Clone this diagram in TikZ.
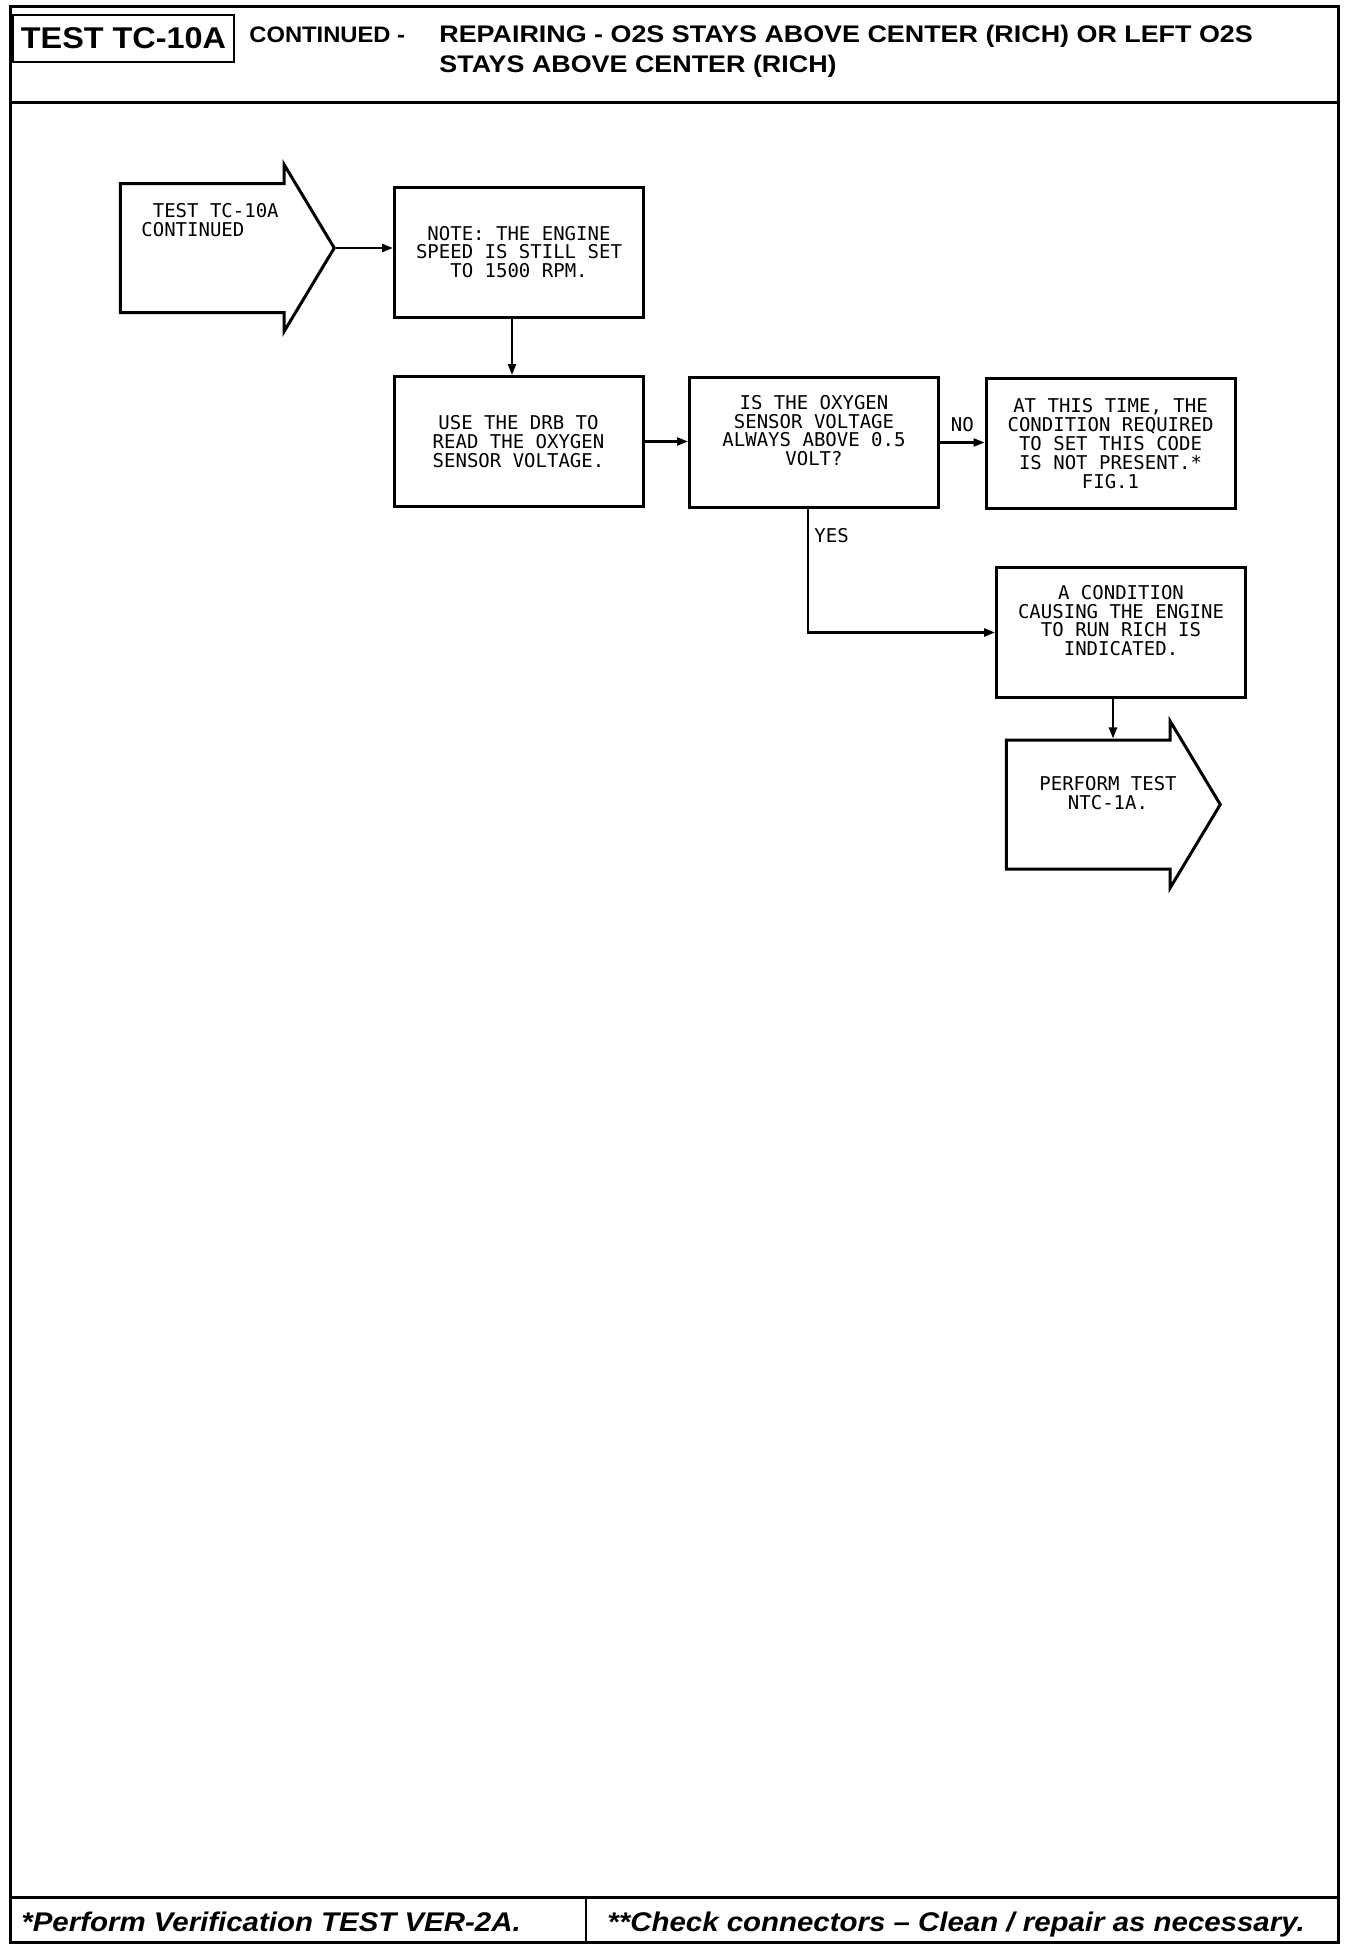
\documentclass[tikz,border=0pt]{standalone}
\usepackage{fontspec}
\setmainfont{Liberation Sans}
\setmonofont{DejaVu Sans Mono}
\newfontfamily\headfont{Liberation Sans}[FakeStretch=1.12]
\newfontfamily\testfont{Liberation Sans}[FakeStretch=1.08]
\newfontfamily\contfont{Liberation Sans}[FakeStretch=1.06]
\newfontfamily\footfont{Liberation Sans}[FakeStretch=1.09]
\usetikzlibrary{positioning,calc,shapes.arrows,arrows.meta}
\definecolor{tcInk}{HTML}{000000}
\newcommand{\boxfont}{\ttfamily\fontsize{9.5}{9.4}\selectfont}

\tikzset{
  stepbox/.style={draw=tcInk, line width=1.5pt, minimum width=124.5pt,
    minimum height=65pt, inner sep=0pt, align=center, font=\boxfont},
  goarrow/.style={draw=tcInk, line width=1.5pt, single arrow,
    single arrow head extend=9.5pt, single arrow head indent=0pt,
    single arrow tip angle=118, minimum height=107pt,
    text height=63pt, text depth=0pt, inner sep=0pt, anchor=tip},
  flow/.style={draw=tcInk, line width=1.2pt,
    -{Triangle[length=5.5pt,width=4pt]}},
  tag/.style={font=\boxfont, inner sep=0pt, text=tcInk}
}

\begin{document}
\begin{tikzpicture}[x=0.5pt, y=-0.5pt]

\def\frameL{10}
\def\frameR{1338}
\def\frameT{6}
\def\frameB{1942}
\def\headY{102}
\def\footY{1897}

\useasboundingbox (0,0) rectangle (1360,1954);

% --- PAGE FRAME ---
\draw[tcInk, line width=1.5pt] (\frameL,\frameT) rectangle (\frameR,\frameB);
\draw[tcInk, line width=1.5pt] (\frameL,\headY) -- (\frameR,\headY);
\draw[tcInk, line width=1.5pt] (\frameL,\footY) -- (\frameR,\footY);
\draw[tcInk, line width=1.2pt] (586,\footY) -- (586,\frameB);

% --- HEADER ---
\node[draw=tcInk, line width=1.2pt, minimum width=110.5pt, minimum height=23.5pt,
      inner sep=0pt, font=\testfont\bfseries\fontsize{15}{15}\selectfont]
  (hdrTest) at (123.5,38.5) {TEST TC-10A};
\node[anchor=base west, inner sep=0pt, font=\contfont\bfseries\fontsize{11.2}{15}\selectfont]
  (hdrCont) at (249,42) {CONTINUED -};
\node[anchor=base west, inner sep=0pt, font=\headfont\bfseries\fontsize{12}{15}\selectfont]
  (hdrTitleA) at (439,42) {REPAIRING - O2S STAYS ABOVE CENTER (RICH) OR LEFT O2S};
\node[anchor=base west, inner sep=0pt, font=\headfont\bfseries\fontsize{12}{15}\selectfont]
  (hdrTitleB) at (439,72) {STAYS ABOVE CENTER (RICH)};

% --- FLOW CHART ---
\node[goarrow] (start) at (336,248) {};
\node[tag, anchor=west, align=left] (startText) at (141,220)
  {\hphantom{X}TEST TC-10A\\CONTINUED};

\node[stepbox] (note) at (519,252)
  {NOTE: THE ENGINE\\SPEED IS STILL SET\\TO 1500 RPM.};
\node[stepbox] (use) at (518.5,441.5)
  {USE THE DRB TO\\READ THE OXYGEN\\SENSOR VOLTAGE.};
\node[stepbox, text depth=12pt] (is) at (814,442.5)
  {IS THE OXYGEN\\SENSOR VOLTAGE\\ALWAYS ABOVE 0.5\\VOLT?};
\node[stepbox] (at) at (1110.5,443.5)
  {AT THIS TIME, THE\\CONDITION REQUIRED\\TO SET THIS CODE\\IS NOT PRESENT.*\\FIG.1};
\node[stepbox, text depth=12pt] (cond) at (1121,632.5)
  {A CONDITION\\CAUSING THE ENGINE\\TO RUN RICH IS\\INDICATED.};

\node[goarrow] (perform) at (1222,804.5) {};
\node[tag, align=center] (performText) at (1108,793)
  {PERFORM TEST\\NTC-1A.};

% --- CONNECTORS ---
\draw[flow] (start.tip) -- (start.tip -| note.west);
\draw[flow] ([xshift=-3.5pt]note.south) -- ([xshift=-3.5pt]note.south |- use.north);
\draw[flow] (use.east) -- (use.east -| is.west);
\draw[flow] (is.east) -- (is.east -| at.west)
  node[tag, midway, above=5pt] (lblNo) {NO};
\draw[flow] ([xshift=-3pt]is.south) |- (cond.west);
\node[tag, anchor=west] (lblYes) at (814,536) {YES};
\draw[flow] ([xshift=-4pt]cond.south) -- ([xshift=-4pt]cond.south |- perform.north);

% --- FOOTER ---
\node[anchor=base west, inner sep=0pt, font=\footfont\bfseries\itshape\fontsize{13.5}{15}\selectfont]
  (footA) at (21,1931) {*Perform Verification TEST VER-2A.};
\node[anchor=base west, inner sep=0pt, font=\footfont\bfseries\itshape\fontsize{13.5}{15}\selectfont]
  (footB) at (607,1931) {**Check connectors – Clean / repair as necessary.};

\end{tikzpicture}
\end{document}
